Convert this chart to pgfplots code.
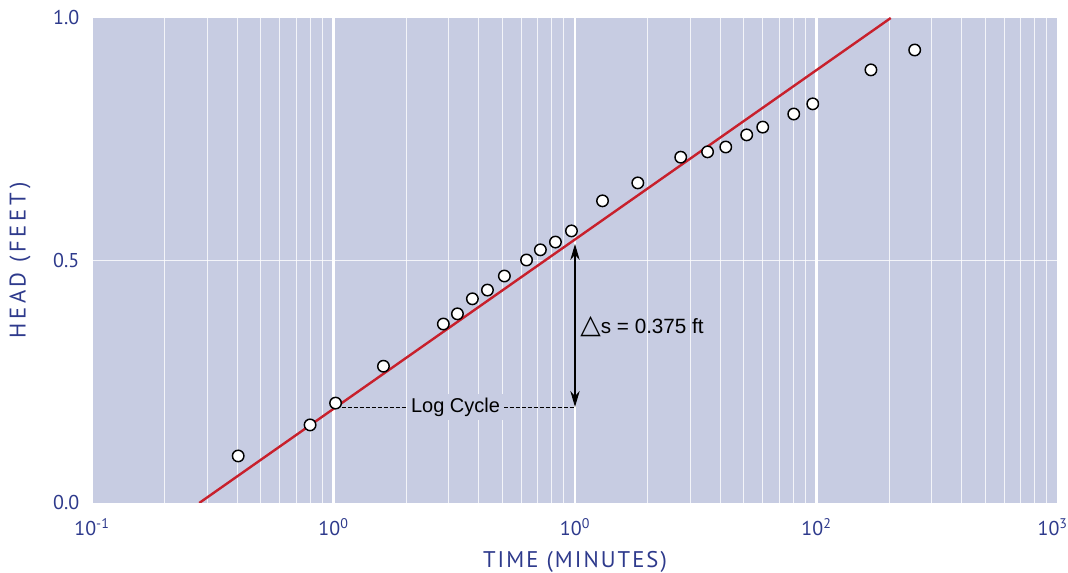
\documentclass[border=0pt]{standalone}
\usepackage{pgfplots}
\pgfplotsset{compat=1.18}
\usepackage{fontspec}
\setmainfont{PT Sans}
\newfontfamily\arial{Liberation Sans}
\newfontfamily\dejavu{DejaVu Sans}
\newfontfamily\spacedx[LetterSpace=9]{PT Sans}
\newfontfamily\spacedy[LetterSpace=16]{PT Sans}
\usetikzlibrary{arrows.meta}
\definecolor{bgcol}{RGB}{199,204,226}
\definecolor{navy}{RGB}{46,58,140}
\definecolor{redline}{RGB}{200,32,44}
\begin{document}
\begin{tikzpicture}
\useasboundingbox (-69pt,-52.5pt) rectangle (732pt,377.25pt);
\begin{axis}[
  at={(0,0)}, anchor=south west,
  scale only axis, width=724.5pt, height=363.75pt,
  xmode=log, xmin=0.1, xmax=1000, ymin=0, ymax=1,
  axis background/.style={fill=bgcol},
  axis line style={draw=none},
  major tick length=0pt, minor tick length=0pt,
  xtick={0.1,1,10,100,1000},
  xticklabels={10\textsuperscript{-1},10\textsuperscript{0},10\textsuperscript{0},10\textsuperscript{2},10\textsuperscript{3}\hspace*{8pt}},
  minor xtick={0.2,0.3,0.4,0.5,0.6,0.7,0.8,0.9,2,3,4,5,6,7,8,9,20,30,40,50,60,70,80,90,200,300,400,500,600,700,800,900},
  ytick={0,0.5,1}, yticklabels={0.0,0.5,1.0},
  xmajorgrids, xminorgrids,
  major grid style={white, line width=2.2pt},
  minor grid style={white, line width=0.8pt, opacity=0.8},
  extra y ticks={0.5}, extra y tick labels={},
  extra y tick style={ymajorgrids, major grid style={white, line width=0.6pt, opacity=0.8}},
  tick label style={font=\fontsize{15}{15}\selectfont, text=navy},
  xticklabel style={yshift=-8pt},
  yticklabel style={xshift=-6pt},
]
\draw[dash pattern=on 3pt off 1.5pt, line width=0.6pt] (axis cs:1.02,0.198) -- (axis cs:10,0.198);
\node[fill=bgcol, font=\arial\fontsize{15}{15}\selectfont, inner sep=3pt] at (axis cs:3.2,0.198) {Log Cycle};
\draw[{Stealth[length=12pt,width=7pt]}-{Stealth[length=12pt,width=7pt]}, line width=0.8pt] (axis cs:10,0.198) -- (axis cs:10,0.534);
\node[anchor=west, font=\arial\fontsize{15.5}{16}\selectfont, inner sep=0pt] at (axis cs:10.5,0.363) {{\dejavu\fontsize{20}{20}\selectfont △}s = 0.375 ft};
\addplot[redline, line width=1.8pt] coordinates {(0.278,0) (203,1)};
\addplot[only marks, mark=*, mark size=4.3pt, mark options={fill=white, draw=black, line width=1.1pt}] coordinates {
(0.403,0.097) (0.80,0.161) (1.02,0.206) (1.61,0.282) (2.85,0.369) (3.26,0.390)
(3.76,0.421) (4.34,0.439) (5.10,0.468) (6.30,0.501) (7.19,0.522) (8.30,0.538)
(9.67,0.561) (13.0,0.623) (18.2,0.660) (27.4,0.713) (35.4,0.724) (42.1,0.734)
(51.4,0.759) (59.9,0.775) (80.5,0.802) (96.5,0.823) (168,0.893) (255,0.934)
};
\end{axis}
\node[rotate=90, text=navy, font=\spacedy\fontsize{17}{17}\selectfont] at (-54pt,181.875pt) {HEAD (FEET)};
\node[text=navy, font=\spacedx\fontsize{17}{17}\selectfont] at (362.25pt,-44.25pt) {TIME (MINUTES)};
\end{tikzpicture}
\end{document}
